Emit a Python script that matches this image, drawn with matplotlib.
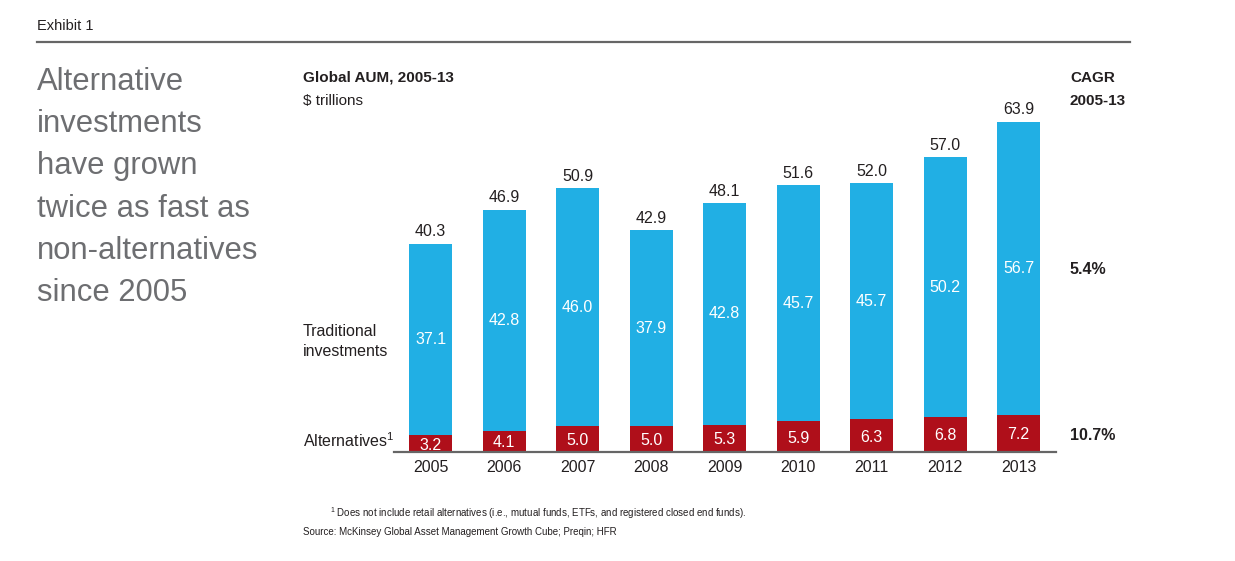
import matplotlib.pyplot as plt
from matplotlib import font_manager

years = ["2005", "2006", "2007", "2008", "2009", "2010", "2011", "2012", "2013"]
alternatives = [3.2, 4.1, 5.0, 5.0, 5.3, 5.9, 6.3, 6.8, 7.2]
traditional = [37.1, 42.8, 46.0, 37.9, 42.8, 45.7, 45.7, 50.2, 56.7]
totals = [40.3, 46.9, 50.9, 42.9, 48.1, 51.6, 52.0, 57.0, 63.9]
cagr_trad = "5.4%"
cagr_alt = "10.7%"

BLUE = "#21AFE4"
RED = "#AF0F1A"
DARK = "#231F20"
GREY = "#6D6E71"

names = {f.name for f in font_manager.fontManager.ttflist}
NARROW = "Liberation Sans Narrow" if "Liberation Sans Narrow" in names else "Liberation Sans"
plt.rcParams["font.family"] = [NARROW, "DejaVu Sans"]

W, H = 1235, 561
fig = plt.figure(figsize=(W / 100, H / 100), dpi=100)


def fx(px):
    return px / W


def fy(py):
    return 1 - py / H


# header
fig.text(fx(37), fy(26), "Exhibit 1", fontsize=10.5, color=DARK, va="center",
         family=["Liberation Sans", "DejaVu Sans"])
fig.add_artist(plt.Line2D([fx(37), fx(1130)], [fy(42), fy(42)], color="#666666", lw=1.6))

headline = ["Alternative", "investments", "have grown", "twice as fast as",
            "non-alternatives", "since 2005"]
for i, line in enumerate(headline):
    fig.text(fx(37), fy(82 + i * 42.2), line, fontsize=22.3, color=GREY, va="center",
             family=["Liberation Sans", "DejaVu Sans"])

# chart axes: baseline at y=452px, x from 394 to 1056px
scale = 5.17  # px per $tn
top_val = 72
ax = fig.add_axes([fx(394), fy(452), fx(1056 - 394), (top_val * scale) / H])
x = range(len(years))
width = 0.585
ax.bar(x, alternatives, width, color=RED)
ax.bar(x, traditional, width, bottom=alternatives, color=BLUE)
ax.set_xlim(-0.497, 8.51)
ax.set_ylim(0, top_val)

for i in x:
    a, t, tot = alternatives[i], traditional[i], totals[i]
    ax.text(i, a / 2 - 0.3, f"{a:.1f}", ha="center", va="center", color="white", fontsize=11.5)
    ax.text(i, a + t / 2, f"{t:.1f}", ha="center", va="center", color="white", fontsize=11.5)
    ax.text(i, tot + 0.9, f"{tot:.1f}", ha="center", va="bottom", color=DARK, fontsize=11.5)

for s in ["top", "right", "left"]:
    ax.spines[s].set_visible(False)
ax.spines["bottom"].set_color("#666666")
ax.spines["bottom"].set_linewidth(1.6)
ax.set_yticks([])
ax.set_xticks(list(x))
ax.set_xticklabels(years, fontsize=11.5, color=DARK)
ax.tick_params(axis="x", length=0, pad=6)

# chart labels
fig.text(fx(303), fy(78), "Global AUM, 2005-13", fontsize=11, weight="bold", color=DARK, va="center")
fig.text(fx(303), fy(101), "$ trillions", fontsize=11, color=DARK, va="center")
fig.text(fx(303), fy(332), "Traditional", fontsize=11.5, color=DARK, va="center")
fig.text(fx(303), fy(351), "investments", fontsize=11.5, color=DARK, va="center")
fig.text(fx(303), fy(441), "Alternatives$^{\\mathregular{1}}$", fontsize=11.5, color=DARK, va="center")

fig.text(fx(1070), fy(78), "CAGR", fontsize=11, weight="bold", color=DARK, va="center")
fig.text(fx(1070), fy(101), "2005-13", fontsize=11, weight="bold", color=DARK, va="center")
fig.text(fx(1070), fy(269), cagr_trad, fontsize=11.5, weight="bold", color=DARK, va="center")
fig.text(fx(1070), fy(436), cagr_alt, fontsize=11.5, weight="bold", color=DARK, va="center")

# footnotes
fig.text(fx(330), fy(513), "$^{\\mathregular{1}}$ Does not include retail alternatives (i.e., mutual funds, ETFs, "
         "and registered closed end funds).", fontsize=7, color=DARK, va="center")
fig.text(fx(303), fy(532), "Source: McKinsey Global Asset Management Growth Cube; Preqin; HFR",
         fontsize=7, color=DARK, va="center")

fig.savefig("out.png", dpi=100)
